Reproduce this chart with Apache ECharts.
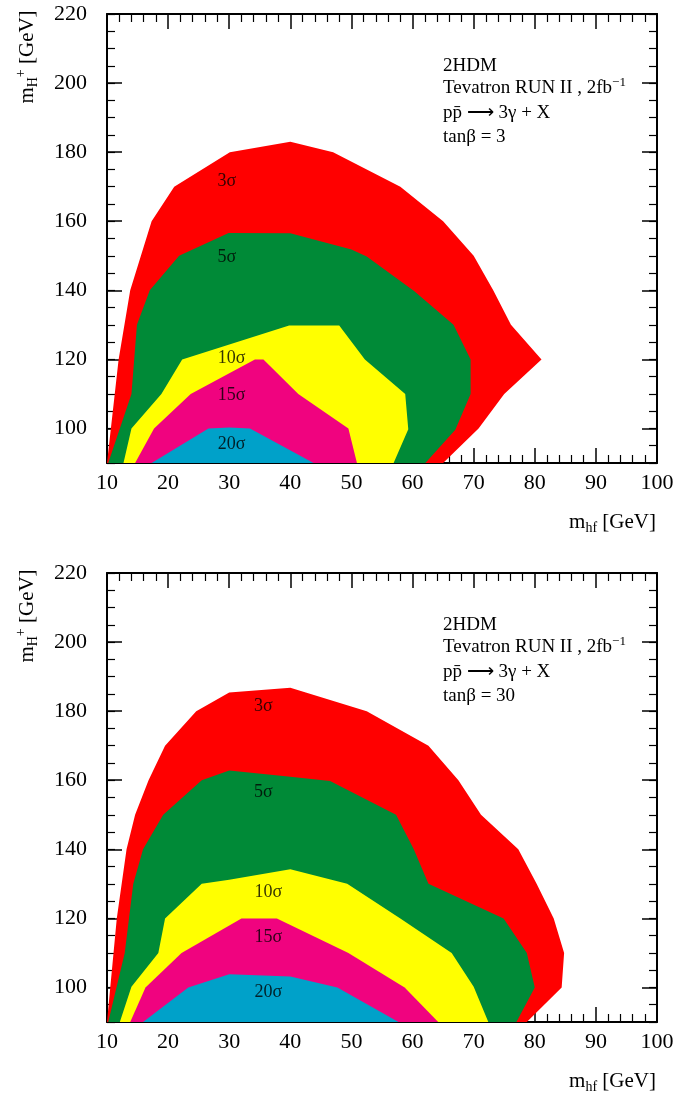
<!DOCTYPE html>
<html>
<head>
<meta charset="utf-8">
<script src="https://cdn.jsdelivr.net/npm/echarts@6/dist/echarts.min.js"></script>
<style>
  html, body { margin: 0; padding: 0; background: #fff; }
  #chart { width: 699px; height: 1096px; }
</style>
</head>
<body>
<div id="chart"></div>
<script>
// Axis ranges and tick labels
const xRange = [10, 100];
const yRange = [90, 220];
const yMajorTicks = [100, 120, 140, 160, 180, 200, 220];

// Discovery regions in the (m_hf, m_H+) plane, tan(beta) = 3
const sig3_tb3 = [[10,90],[11.9,120],[13.8,140],[17.3,160],[21,170],[30.1,180],[40,183],[47,180],[58,170],[65,160],[70,150],[73.2,140],[76.1,130],[81.1,120],[75,110],[70.8,100],[65,90]];
const sig5_tb3 = [[10.2,90],[14,110],[14.9,130],[17,140],[21.8,150],[29.9,156.6],[40,156.5],[50,151.8],[52.5,149.8],[60.3,139.7],[66.7,130],[69.5,120],[69.5,110],[67,99.6],[62.1,90]];
const sig10_tb3 = [[12.7,90],[14,100],[18.9,110],[22.3,120],[39.8,129.8],[48,129.8],[52.2,120],[58.8,110],[59.3,99.8],[56.9,90]];
const sig15_tb3 = [[14.6,90],[17.7,100],[23.7,110],[34.2,120],[35.6,120],[41.3,110],[49.5,100],[50.9,90]];
const sig20_tb3 = [[17.3,90],[26.6,100],[30,100.3],[33.4,100],[43.8,90]];

// Discovery regions, tan(beta) = 30
const sig3_tb30 = [[10,90],[11.6,120],[13.2,140],[14.6,150],[16.8,160],[19.5,170],[24.6,180],[30,185.4],[40,186.8],[52.5,180],[62.6,170],[67.5,160],[71.2,150],[77.3,140],[80.3,130],[83.1,120],[84.8,110],[84.4,100],[78.7,90]];
const sig5_tb30 = [[10.2,90],[12.9,110],[14.3,130],[15.9,140],[19.2,150],[25.5,160],[30,162.8],[40,161],[46.5,159.8],[57.3,150],[60.2,140],[62.6,130],[74.9,120],[78.7,110],[80,100],[77,90]];
const sig10_tb30 = [[12.1,90],[14,100.2],[18.4,110],[19.5,120],[25.5,130],[30,131.2],[40,134.2],[49.3,130],[58,120],[66.4,110],[70,100.2],[72.4,90]];
const sig15_tb30 = [[13.8,90],[16.3,100],[22.2,110],[32,120],[37.8,120],[49.5,110],[58.7,100],[64.2,90]];
const sig20_tb30 = [[15.9,90],[23.3,100],[30,103.8],[40,103.2],[47.7,100],[57.7,90]];

// Significance labels: [m_hf, m_H+, text]
const labels_tb3 = [[29.6,171.5,'3σ'],[29.6,149.5,'5σ'],[30.4,120.4,'10σ'],[30.4,109.5,'15σ'],[30.4,95.5,'20σ']];
const labels_tb30 = [[35.6,181.4,'3σ'],[35.6,156.4,'5σ'],[36.4,127.5,'10σ'],[36.4,114.4,'15σ'],[36.4,98.5,'20σ']];

const regionColors = ['#ff0000', '#008a37', '#ffff00', '#f0037f', '#00a1c9'];
const SERIF = 'Liberation Serif';

const panels = [
  { top: 14, regions: [sig3_tb3, sig5_tb3, sig10_tb3, sig15_tb3, sig20_tb3], labels: labels_tb3, tanb: '3' },
  { top: 573, regions: [sig3_tb30, sig5_tb30, sig10_tb30, sig15_tb30, sig20_tb30], labels: labels_tb30, tanb: '30' }
];

const grids = [], xAxes = [], yAxes = [], series = [], graphics = [];

const lineStyle = { color: '#000', width: 2 };

panels.forEach((p, gi) => {
  grids.push({ left: 107, top: p.top, width: 550, height: 449, containLabel: false });

  const xBase = {
    type: 'value', gridIndex: gi, min: xRange[0], max: xRange[1], interval: 10,
    axisLine: { show: true, onZero: false, lineStyle },
    splitLine: { show: false },
    axisTick: { show: true, inside: true, length: 15, lineStyle: { color: '#000', width: 1.5 } },
    minorTick: { show: true, splitNumber: 5, length: 8, lineStyle: { color: '#000', width: 1.2 } }
  };
  const xMain = xAxes.length;
  xAxes.push(Object.assign({}, xBase, {
    position: 'bottom',
    axisLabel: { show: true, margin: 9, fontFamily: SERIF, fontSize: 22, color: '#000' }
  }));
  xAxes.push(Object.assign({}, xBase, { position: 'top', axisLabel: { show: false } }));

  const yMajor = (pos, withLabels) => ({
    type: 'value', gridIndex: gi, position: pos, min: yRange[0], max: yRange[1],
    axisLine: { show: true, onZero: false, lineStyle },
    splitLine: { show: false },
    axisTick: { show: true, inside: true, length: 15, customValues: yMajorTicks, lineStyle: { color: '#000', width: 1.5 } },
    axisLabel: withLabels
      ? { show: true, customValues: yMajorTicks, margin: 20, fontFamily: SERIF, fontSize: 22, color: '#000' }
      : { show: false }
  });
  const yMinor = (pos) => ({
    type: 'value', gridIndex: gi, position: pos, min: yRange[0], max: yRange[1], interval: 5,
    axisLine: { show: false },
    splitLine: { show: false },
    axisTick: { show: true, inside: true, length: 8, lineStyle: { color: '#000', width: 1.2 } },
    axisLabel: { show: false }
  });
  const yMain = yAxes.length;
  yAxes.push(yMajor('left', true));
  yAxes.push(yMinor('left'));
  yAxes.push(yMajor('right', false));
  yAxes.push(yMinor('right'));

  // filled significance regions, drawn from the outermost inwards
  p.regions.forEach((pts, ri) => {
    series.push({
      type: 'custom',
      coordinateSystem: 'cartesian2d',
      xAxisIndex: xMain, yAxisIndex: yMain,
      silent: true,
      z: 2 + ri,
      data: [pts[0]],
      renderItem: (params, api) => ({
        type: 'polygon',
        shape: { points: pts.map(pt => api.coord(pt)) },
        style: { fill: regionColors[ri], stroke: null }
      })
    });
  });

  series.push({
    type: 'scatter',
    xAxisIndex: xMain, yAxisIndex: yMain,
    symbolSize: 1,
    itemStyle: { color: 'rgba(0,0,0,0)' },
    silent: true,
    z: 10,
    data: p.labels,
    label: {
      show: true, position: 'inside',
      formatter: (d) => d.data[2],
      fontFamily: SERIF, fontSize: 18, color: '#000'
    }
  });

  // axis titles
  const off = p.top - 14;
  graphics.push({
    type: 'text', x: 27, y: 57 + off, rotation: Math.PI / 2,
    style: {
      text: '{a|m}{b|H}{c|+}{a| [GeV]}',
      align: 'center', verticalAlign: 'middle',
      rich: {
        a: { fontFamily: SERIF, fontSize: 21, lineHeight: 26, fill: '#000', verticalAlign: 'middle' },
        b: { fontFamily: SERIF, fontSize: 14, lineHeight: 8, fill: '#000', verticalAlign: 'bottom' },
        c: { fontFamily: SERIF, fontSize: 14, lineHeight: 10, fill: '#000', verticalAlign: 'top' }
      }
    }
  });
  graphics.push({
    type: 'text', x: 656, y: 522.5 + off,
    style: {
      text: '{a|m}{b|hf}{a| [GeV]}',
      align: 'right', verticalAlign: 'middle',
      rich: {
        a: { fontFamily: SERIF, fontSize: 21, lineHeight: 26, fill: '#000', verticalAlign: 'middle' },
        b: { fontFamily: SERIF, fontSize: 14, lineHeight: 8, fill: '#000', verticalAlign: 'bottom' }
      }
    }
  });

  // process description
  const infoLines = [
    { text: '2HDM', y: 65.7 },
    { text: '{t|Tevatron RUN II , 2fb}{s|−1}', y: 88.5 },
    { text: 'pp\u0304 ⟶ 3γ + X', y: 113 },
    { text: 'tanβ = ' + p.tanb, y: 136.7 }
  ];
  infoLines.forEach(l => {
    graphics.push({
      type: 'text', x: 443, y: l.y + off,
      style: {
        text: l.text, align: 'left', verticalAlign: 'middle',
        fontFamily: SERIF, fontSize: 19, fill: '#000',
        rich: {
          t: { fontFamily: SERIF, fontSize: 19, lineHeight: 24, fill: '#000', verticalAlign: 'middle' },
          s: { fontFamily: SERIF, fontSize: 13, lineHeight: 10, fill: '#000', verticalAlign: 'top' }
        }
      }
    });
  });
});

const chart = echarts.init(document.getElementById('chart'), null, { renderer: 'canvas' });
chart.setOption({
  animation: false,
  backgroundColor: '#fff',
  grid: grids,
  xAxis: xAxes,
  yAxis: yAxes,
  series: series,
  graphic: graphics
});
</script>
</body>
</html>
